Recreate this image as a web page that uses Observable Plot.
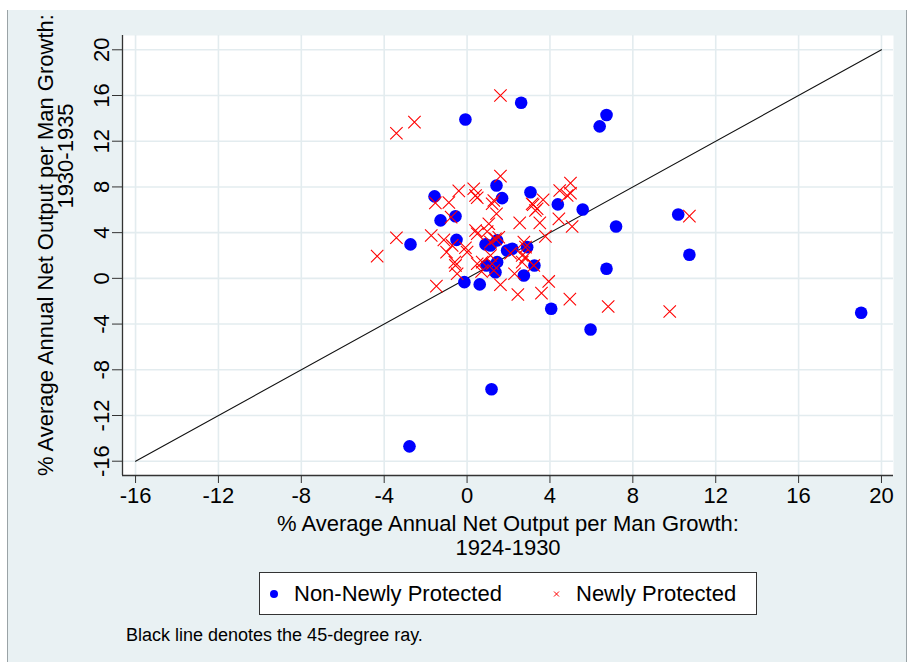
<!DOCTYPE html>
<html>
<head>
<meta charset="utf-8">
<script src="https://cdn.jsdelivr.net/npm/d3@7"></script>
<script src="https://cdn.jsdelivr.net/npm/@observablehq/plot@0.6"></script>
<style>
  body { margin: 0; background: #ffffff; font-family: "Liberation Sans", Arial, sans-serif; }
  #wrap { position: relative; width: 908px; height: 666px; overflow: hidden; }
  #bg { position: absolute; left: 7px; top: 10px; width: 898px; height: 652px; background: #e9f1f3; border-left: 1px solid #9aa3a6; border-right: 1px solid #9aa3a6; }
  #chart { position: absolute; left: 0; top: 0; }
  #legend { position: absolute; left: 259px; top: 572px; width: 496px; height: 41px; background: #fff; border: 1px solid #333; }
  #legend .lab { position: absolute; top: 10px; font-size: 22px; line-height: 22px; color: #000; white-space: nowrap; }
  #legend svg { position: absolute; left: 0; top: 0; }
  #caption { position: absolute; left: 126px; top: 626px; font-size: 18px; line-height: 18px; color: #000; white-space: nowrap; }
</style>
</head>
<body>
<div id="wrap">
  <div id="bg"></div>
  <div id="chart"></div>
  <div id="legend">
    <svg width="496" height="41">
      <circle cx="14" cy="21" r="4" fill="#0000ff"></circle>
      <path d="M294,18.5L299,23.5M294,23.5L299,18.5" stroke="#ff0000" stroke-width="1" fill="none"></path>
    </svg>
    <span class="lab" style="left:34px">Non-Newly Protected</span>
    <span class="lab" style="left:316px">Newly Protected</span>
  </div>
  <div id="caption">Black line denotes the 45-degree ray.</div>
</div>
<script>
// Non-Newly Protected industries
const nonNewX = [-2.78, 1.18, -0.08, 2.61, 6.40, 6.73, -1.57, -1.28, -0.56, -2.73, -0.51, 1.42, 1.69, 3.06, 4.38, 5.58, 7.19, 6.73, 10.19, 10.73, 19.02, 4.06, 5.96, -0.13, 0.61, 2.74, 3.25, 0.89, 1.13, 1.93, 2.18, 2.90, 0.94, 1.45, 1.37, 1.45];
const nonNewY = [-14.7, -9.7, 13.9, 15.36, 13.3, 14.3, 7.17, 5.07, 5.44, 2.97, 3.37, 8.13, 7.02, 7.54, 6.47, 6.03, 4.54, 0.84, 5.59, 2.06, -3.01, -2.66, -4.47, -0.33, -0.53, 0.25, 1.13, 2.97, 2.88, 2.44, 2.59, 2.73, 1.13, 1.42, 0.54, 3.32];

// Newly Protected industries
const newX = [1.61, -3.41, -2.54, 1.61, -0.40, 0.32, 0.41, 0.49, -1.53, -0.88, 1.29, 1.21, 3.14, 3.38, 1.42, -0.77, 2.54, 1.05, 0.41, 0.49, 4.99, 4.47, 4.99, 4.83, 3.67, 3.19, 3.30, 4.43, 5.07, 3.51, 3.78, 2.74, -3.41, -1.73, -1.12, -0.72, -4.34, -0.99, -0.59, -0.56, -0.48, -1.48, -0.08, 0.00, 1.13, 1.37, 1.53, 2.82, 0.49, 0.73, 1.21, 1.29, 1.61, 2.45, 1.13, 2.29, 2.82, 3.22, 2.66, 2.66, 3.94, 3.59, 4.96, 6.81, 10.73, 9.78, 0.97, 0.70, 2.10];
const newY = [16.0, 12.7, 13.67, 8.94, 7.65, 7.84, 7.25, 7.05, 6.60, 6.64, 6.81, 6.53, 6.53, 6.09, 5.65, 5.36, 4.86, 4.78, 4.19, 3.90, 8.33, 7.69, 7.45, 7.25, 6.88, 6.44, 5.94, 5.21, 4.54, 4.86, 3.67, 3.17, 3.55, 3.75, 3.37, 2.88, 1.94, 2.29, 1.42, 1.13, 0.40, -0.68, 2.68, 2.29, 3.17, 3.46, 3.60, 2.73, 1.28, 1.42, 1.28, 0.69, -0.56, -1.41, 2.00, 0.40, 1.86, 1.13, 1.42, 2.00, -0.27, -1.29, -1.82, -2.46, 5.44, -2.90, 4.10, 0.60, 2.20];

// 45-degree ray endpoints
const ray = [-16, 20];

// Tick labels
const xTicks = [-16, -12, -8, -4, 0, 4, 8, 12, 16, 20];
const yTicks = [-16, -12, -8, -4, 0, 4, 8, 12, 16, 20];

const xTitle = ["% Average Annual Net Output per Man Growth:", "1924-1930"];
const yTitle = ["% Average Annual Net Output per Man Growth:", "1930-1935"];

const xDomain = [-16.63, 20.58];
const yDomain = [-17.25, 21.25];

const nonNew = nonNewX.map((x, i) => ({x, y: nonNewY[i]}));
const newly = newX.map((x, i) => ({x, y: newY[i]}));

const fmt = d => String(d);

const W = 908, H = 560;
const chart = Plot.plot({
  width: W,
  height: H,
  marginLeft: 122,
  marginRight: 15,
  marginTop: 35,
  marginBottom: H - 475,
  style: {background: "transparent", fontFamily: "'Liberation Sans', Arial, sans-serif", fontSize: "22px", color: "#000", overflow: "visible"},
  x: {domain: xDomain},
  y: {domain: yDomain},
  marks: [
    Plot.frame({fill: "white", stroke: null}),
    Plot.gridX(xTicks, {stroke: "#e3ecef", strokeOpacity: 1, strokeWidth: 1.6}),
    Plot.gridY(yTicks, {stroke: "#e3ecef", strokeOpacity: 1, strokeWidth: 1.6}),
    Plot.ruleX([xDomain[0]], {stroke: "#333", strokeWidth: 1.3}),
    Plot.ruleY([yDomain[0]], {stroke: "#333", strokeWidth: 1.3}),
    Plot.axisX(xTicks, {tickSize: 8, tickPadding: 4, label: null, stroke: "#333", fontSize: 22, tickFormat: fmt}),
    Plot.axisY(yTicks, {tickSize: 10, tickPadding: 4, tickRotate: -90, label: null, stroke: "#333", fontSize: 22, tickFormat: fmt}),
    Plot.line(ray, {x: d => d, y: d => d, stroke: "#111", strokeWidth: 1.1}),
    Plot.dot(nonNew, {x: "x", y: "y", r: 6.3, fill: "#0000ff", stroke: null}),
    Plot.dot(newly, {x: "x", y: "y", r: 5.7, symbol: "times", stroke: "#ff0000", strokeWidth: 1.1})
  ]
});

const svg = d3.select(chart);
svg.append("text").attr("x", 508).attr("y", 531).attr("text-anchor", "middle")
  .attr("font-size", 22).attr("fill", "#000").text(xTitle[0]);
svg.append("text").attr("x", 508).attr("y", 555).attr("text-anchor", "middle")
  .attr("font-size", 22).attr("fill", "#000").text(xTitle[1]);
svg.append("text").attr("transform", "translate(53,476) rotate(-90)").attr("text-anchor", "start")
  .attr("font-size", 22).attr("fill", "#000").text(yTitle[0]);
svg.append("text").attr("transform", "translate(73,156) rotate(-90)").attr("text-anchor", "middle")
  .attr("font-size", 22).attr("fill", "#000").text(yTitle[1]);

document.getElementById("chart").appendChild(chart);
</script>
</body>
</html>
